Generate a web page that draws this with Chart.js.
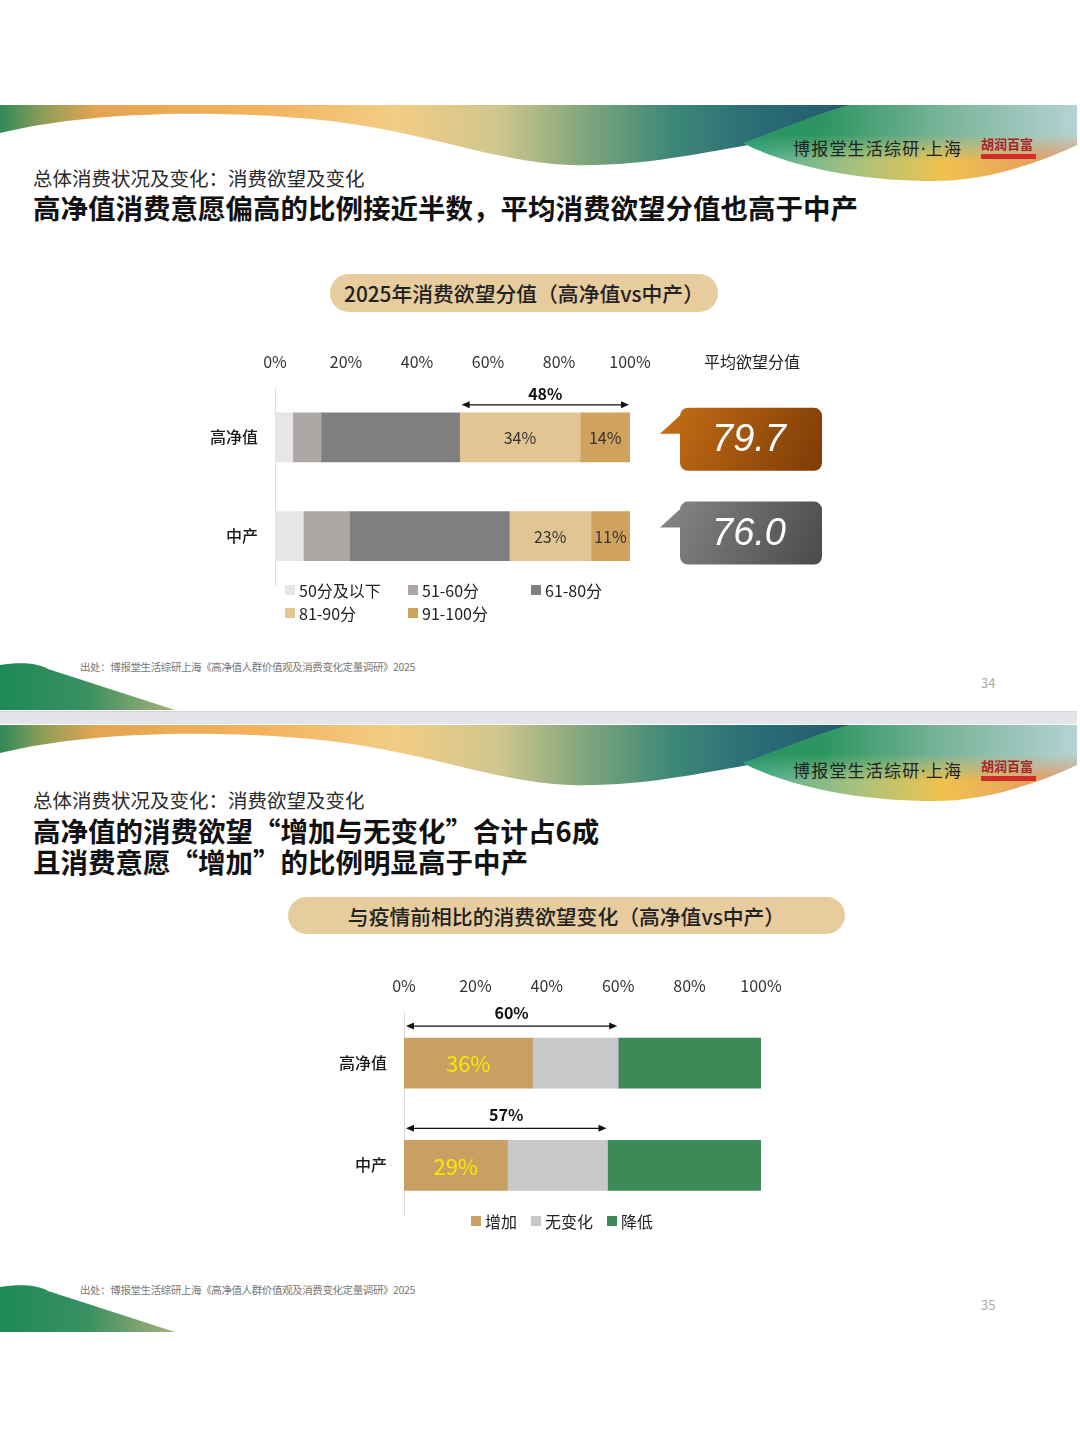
<!DOCTYPE html>
<html>
<head>
<meta charset="utf-8" />
<title>消费欲望</title>
<style>
  body { margin: 0; background: #fff; font-family: "Noto Sans CJK SC", "Noto Sans", sans-serif; color: #222; }
  #page { position: relative; width: 1080px; height: 1440px; overflow: hidden; background: #fff; }
  .t { position: absolute; white-space: nowrap; line-height: 1; }
  .sub { font-size: 19.5px; color: #2b2b2b; }
  .head { font-size: 27.5px; font-weight: 700; color: #111; }
  .brand { font-size: 17px; letter-spacing: 1.2px; color: #222; }
  .brand b { font-family: "DejaVu Sans", sans-serif; font-weight: 400; letter-spacing: 0; }
  .logo { font-size: 13px; font-weight: 700; color: #a3262a; letter-spacing: 0; }
  .logobar { position: absolute; width: 55px; height: 5px; background: #d22b2b; }
  .pill { position: absolute; background: #e7cc9e; border-radius: 20px; font-size: 20.8px; font-weight: 500; color: #222;
          display: flex; align-items: center; justify-content: center; }
  .src { font-size: 10.5px; color: #777; letter-spacing: -0.4px; }
  .pg { font-size: 13px; color: #aaa; }
  canvas { position: absolute; }
  .legend { position: absolute; font-size: 16px; color: #222; }
  .legend span.item { display: inline-flex; align-items: center; white-space: nowrap; }
  .legend i { display: inline-block; width: 10px; height: 10px; margin-right: 4px; }
  .sep { position: absolute; left: 0; top: 711px; width: 1077px; height: 12px; background: #e3e5ea; border-top: 1px solid #d2d4d9; }
</style>
</head>
<body>
<div id="page">
  <div id="hdr1"></div>
  <div id="hdr2"></div>
  <div class="sep"></div>

  <!-- slide 34 -->
  <div class="t brand" style="left:793px;top:139px;">博报堂生活综研<b>·</b>上海</div>
  <div class="t logo" style="left:981px;top:137px;">胡润百富</div>
  <div class="logobar" style="left:981px;top:154px;"></div>
  <div class="t sub" style="left:33px;top:168px;">总体消费状况及变化：消费欲望及变化</div>
  <div class="t head" style="left:33px;top:194px;">高净值消费意愿偏高的比例接近半数，平均消费欲望分值也高于中产</div>
  <div class="pill" style="left:330px;top:274px;width:388px;height:38px;">2025年消费欲望分值（高净值vs中产）</div>
  <canvas id="scoreChart" width="660" height="280" style="left:180px;top:332px;"></canvas>
  <div id="scoreLegend" class="legend" style="left:285px;top:580px;"></div>
  <div class="t src" style="left:80px;top:662px;">出处：博报堂生活综研上海《高净值人群价值观及消费变化定量调研》2025</div>
  <div class="t pg" style="left:981px;top:676px;">34</div>

  <!-- slide 35 -->
  <div class="t brand" style="left:793px;top:761px;">博报堂生活综研<b>·</b>上海</div>
  <div class="t logo" style="left:981px;top:759px;">胡润百富</div>
  <div class="logobar" style="left:981px;top:776px;"></div>
  <div class="t sub" style="left:33px;top:790px;">总体消费状况及变化：消费欲望及变化</div>
  <div class="t head" style="left:33px;top:817px;">高净值的消费欲望“增加与无变化”合计占6成</div>
  <div class="t head" style="left:33px;top:848px;">且消费意愿“增加”的比例明显高于中产</div>
  <div class="pill" style="left:288px;top:897px;width:557px;height:37px;">与疫情前相比的消费欲望变化（高净值vs中产）</div>
  <canvas id="changeChart" width="492" height="287" style="left:309px;top:956px;"></canvas>
  <div id="changeLegend" class="legend" style="left:471px;top:1211px;"></div>
  <div class="t src" style="left:80px;top:1285px;">出处：博报堂生活综研上海《高净值人群价值观及消费变化定量调研》2025</div>
  <div class="t pg" style="left:981px;top:1298px;">35</div>
</div>

<script src="https://cdn.jsdelivr.net/npm/chart.js@4.4.1/dist/chart.umd.min.js"></script>
<script>
// ---- data (%) ----
const rowLabels = ['高净值', '中产'];
const pctTicks = [0, 20, 40, 60, 80, 100];

// 2025年消费欲望分值
const scoreBands = ['50分及以下', '51-60分', '61-80分', '81-90分', '91-100分'];
const scoreUpTo50 = [5, 8];
const score51to60 = [8, 13];
const score61to80 = [39, 45];
const score81to90 = [34, 23];
const score91to100 = [14, 11];
const avgScore = [79.7, 76.0];

// 与疫情前相比的消费欲望变化
const changeNames = ['增加', '无变化', '降低'];
const changeUp = [36, 29];
const changeSame = [24, 28];
const changeDown = [40, 43];

// ---- styles ----
const FAM = '"Noto Sans CJK SC", "Noto Sans", sans-serif';
const scoreColors = ['#e6e6e6', '#aca7a5', '#7f7f7f', '#e3c594', '#cfa25e'];
const changeColors = ['#c9a063', '#c8c8c8', '#3b8a58'];
const bubbleFills = [['#bf6a14', '#7d3b06'], ['#828282', '#4a4a4a']];

Chart.defaults.font.family = FAM;

// header wave + bottom corner (decoration only)
function header(id, top, bottomTop) {
  const s = id;
  document.getElementById(id).innerHTML =
  `<svg style="position:absolute;left:0;top:${top}px" width="1077" height="90">
    <defs>
      <linearGradient id="gA${s}" x1="0" y1="0" x2="860" y2="0" gradientUnits="userSpaceOnUse">
        <stop offset="0" stop-color="#2f8a58"/><stop offset="0.05" stop-color="#8f9d58"/>
        <stop offset="0.11" stop-color="#e3a552"/><stop offset="0.3" stop-color="#f3b25c"/>
        <stop offset="0.46" stop-color="#f2cd85"/><stop offset="0.58" stop-color="#cfc68e"/>
        <stop offset="0.68" stop-color="#80a67d"/><stop offset="0.78" stop-color="#3e8878"/>
        <stop offset="0.88" stop-color="#2a6c76"/><stop offset="1" stop-color="#225a6c"/>
      </linearGradient>
      <linearGradient id="gB${s}" x1="740" y1="0" x2="1077" y2="0" gradientUnits="userSpaceOnUse">
        <stop offset="0" stop-color="#3fae9e"/><stop offset="0.35" stop-color="#a9c27c"/>
        <stop offset="0.6" stop-color="#f0c24e"/><stop offset="0.85" stop-color="#e8a35e"/>
        <stop offset="1" stop-color="#dc9a6c"/>
      </linearGradient>
      <linearGradient id="gC${s}" x1="820" y1="0" x2="1077" y2="0" gradientUnits="userSpaceOnUse">
        <stop offset="0" stop-color="#2a955f"/><stop offset="0.5" stop-color="#7cb59c"/>
        <stop offset="1" stop-color="#b5d3d3"/>
      </linearGradient>
      <linearGradient id="fd${s}" x1="0" y1="0" x2="0" y2="1">
        <stop offset="0" stop-color="#fff"/><stop offset="0.32" stop-color="#fff"/>
        <stop offset="0.62" stop-color="#000"/>
      </linearGradient>
      <mask id="m${s}"><rect x="0" y="0" width="1077" height="90" fill="url(#fd${s})"/></mask>
    </defs>
    <path d="M0,0 H1077 V20 L760,38 C700,48 640,62 570,60 C490,56 430,28 330,16 C220,4 90,6 0,28 Z" fill="url(#gA${s})"/>
    <path d="M743,38 C780,25 815,10 850,0 H1077 V40 C1030,62 980,76 935,76 C860,76 790,62 743,38 Z" fill="url(#gB${s})"/>
    <path d="M743,38 C780,25 815,10 850,0 H1077 V40 C1030,62 980,76 935,76 C860,76 790,62 743,38 Z" fill="url(#gC${s})" mask="url(#m${s})"/>
  </svg>
  <svg style="position:absolute;left:0;top:${bottomTop}px" width="180" height="50">
    <defs>
      <linearGradient id="gD${s}" x1="0" y1="0" x2="175" y2="0" gradientUnits="userSpaceOnUse">
        <stop offset="0" stop-color="#1d8a55"/><stop offset="0.5" stop-color="#3a9060"/>
        <stop offset="1" stop-color="#a9b27c"/>
      </linearGradient>
    </defs>
    <path d="M0,5 C20,2 38,3 48,9 L175,50 L0,50 Z" fill="url(#gD${s})"/>
  </svg>`;
}
header('hdr1', 105, 660);
header('hdr2', 725, 1282);

// legends built from the series names
function legend(id, names, colors, style) {
  const el = document.getElementById(id);
  el.style.cssText += style;
  names.forEach((n, k) => {
    const sp = document.createElement('span');
    sp.className = 'item';
    sp.innerHTML = `<i style="background:${colors[k]}"></i>${n}`;
    el.appendChild(sp);
  });
}
legend('scoreLegend', scoreBands, scoreColors, 'display:grid;grid-template-columns:123px 123px 123px;row-gap:3px;line-height:20px;');
legend('changeLegend', changeNames, changeColors, 'display:flex;gap:14px;line-height:20px;');

// arrows, in-bar labels and score bubbles
const barNotes = {
  id: 'barNotes',
  afterDatasetsDraw(chart, args, o) {
    const ctx = chart.ctx, xs = chart.scales.x, ys = chart.scales.y, area = chart.chartArea;
    ctx.save();
    ctx.textAlign = 'center';
    ctx.textBaseline = 'middle';
    // values inside bars
    ctx.font = o.labelFont;
    ctx.fillStyle = o.labelColor;
    o.labelSets.forEach(d => {
      const meta = chart.getDatasetMeta(d);
      meta.data.forEach((bar, i) => {
        const p = bar.getProps(['x', 'y', 'base'], true);
        ctx.fillText(chart.data.datasets[d].data[i] + '%', (p.x + p.base) / 2, p.y + 1);
      });
    });
    // double arrows
    ctx.strokeStyle = '#111';
    ctx.fillStyle = '#111';
    ctx.lineWidth = 1.2;
    o.spans.forEach(s => {
      const bar = chart.getDatasetMeta(0).data[s.row].getProps(['y', 'height'], true);
      const top = bar.y - bar.height / 2;
      const ay = top - o.arrowGap;
      const x0 = xs.getPixelForValue(s.from) + 2, x1 = xs.getPixelForValue(s.to) - 1;
      ctx.beginPath(); ctx.moveTo(x0 + 4, ay); ctx.lineTo(x1 - 4, ay); ctx.stroke();
      ctx.beginPath(); ctx.moveTo(x0, ay); ctx.lineTo(x0 + 8, ay - 3.5); ctx.lineTo(x0 + 8, ay + 3.5); ctx.closePath(); ctx.fill();
      ctx.beginPath(); ctx.moveTo(x1, ay); ctx.lineTo(x1 - 8, ay - 3.5); ctx.lineTo(x1 - 8, ay + 3.5); ctx.closePath(); ctx.fill();
      ctx.font = 'bold 16px ' + FAM;
      ctx.fillText(s.text, (x0 + x1) / 2, top - o.textGap);
    });
    // average score bubbles
    if (o.bubbles) {
      ctx.font = '16px ' + FAM;
      ctx.fillStyle = '#222';
      ctx.fillText('平均欲望分值', area.right + 122, area.top - 26);
      o.bubbles.forEach((v, i) => {
        const cy = ys.getPixelForValue(i) + (i === 0 ? 2 : -3);
        const w = 142, h = 63, left = area.right + 50, top = cy - h / 2;
        const g = ctx.createLinearGradient(left, top, left + w, top + h);
        g.addColorStop(0, bubbleFills[i][0]);
        g.addColorStop(1, bubbleFills[i][1]);
        ctx.fillStyle = g;
        ctx.beginPath(); ctx.roundRect(left, top, w, h, 8); ctx.fill();
        ctx.beginPath(); ctx.moveTo(left + 3, top + 5); ctx.lineTo(left - 20, top + 26); ctx.lineTo(left + 3, top + 26); ctx.closePath(); ctx.fill();
        ctx.fillStyle = '#fff';
        ctx.font = 'italic 38px "Liberation Sans", Arial, sans-serif';
        ctx.fillText(v.toFixed(1), left + w / 2 - 2, cy + 1);
      });
    }
    ctx.restore();
  }
};

function pctScales(yWidth) {
  return {
    x: {
      position: 'top', stacked: true, min: 0, max: 100,
      afterBuildTicks: s => { s.ticks = pctTicks.map(v => ({ value: v })); },
      ticks: { padding: 16, color: '#333', font: { size: 16 }, callback: v => v + '%' },
      grid: { display: false, drawTicks: false },
      border: { display: false },
      afterFit: s => { s.height = 36; }
    },
    y: {
      stacked: true,
      ticks: { padding: 17, color: '#1a1a1a', font: { size: 16, weight: '500' } },
      grid: { display: false, drawTicks: false },
      border: { display: true, color: '#dcdcdc', width: 1 },
      afterFit: s => { s.width = yWidth; }
    }
  };
}

// chart 1: 2025年消费欲望分值
const scoreSeries = [scoreUpTo50, score51to60, score61to80, score81to90, score91to100];
new Chart(document.getElementById('scoreChart'), {
  type: 'bar',
  data: {
    labels: rowLabels,
    datasets: scoreBands.map((b, k) => ({
      label: b, data: scoreSeries[k], backgroundColor: scoreColors[k], borderWidth: 0, barThickness: 49
    }))
  },
  options: {
    indexAxis: 'y', responsive: false, animation: false,
    layout: { padding: { top: 20, right: 210, bottom: 10, left: 0 } },
    plugins: {
      legend: { display: false }, tooltip: { enabled: false },
      barNotes: {
        labelSets: [3, 4], labelFont: '16px ' + FAM, labelColor: '#333',
        arrowGap: 8, textGap: 19,
        spans: [{
          row: 0,
          from: scoreUpTo50[0] + score51to60[0] + score61to80[0], to: 100,
          text: (score81to90[0] + score91to100[0]) + '%'
        }],
        bubbles: avgScore
      }
    },
    scales: pctScales(95)
  },
  plugins: [barNotes]
});

// chart 2: 与疫情前相比的消费欲望变化
const changeSeries = [changeUp, changeSame, changeDown];
new Chart(document.getElementById('changeChart'), {
  type: 'bar',
  data: {
    labels: rowLabels,
    datasets: changeNames.map((n, k) => ({
      label: n, data: changeSeries[k], backgroundColor: changeColors[k], borderWidth: 0, barThickness: 50
    }))
  },
  options: {
    indexAxis: 'y', responsive: false, animation: false,
    layout: { padding: { top: 20, right: 40, bottom: 8, left: 0 } },
    plugins: {
      legend: { display: false }, tooltip: { enabled: false },
      barNotes: {
        labelSets: [0], labelFont: '22px ' + FAM, labelColor: '#ffe600',
        arrowGap: 12, textGap: 25,
        spans: rowLabels.map((r, i) => ({
          row: i, from: 0, to: changeUp[i] + changeSame[i], text: (changeUp[i] + changeSame[i]) + '%'
        }))
      }
    },
    scales: pctScales(95)
  },
  plugins: [barNotes]
});
</script>
</body>
</html>
